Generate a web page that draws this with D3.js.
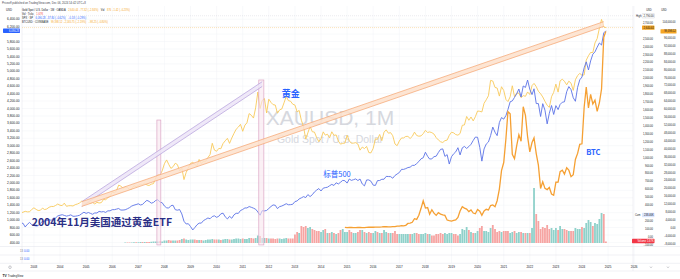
<!DOCTYPE html>
<html>
<head>
<meta charset="utf-8">
<script src="https://cdn.jsdelivr.net/npm/d3@7"></script>
<style>
body { margin: 0; background: #fff; }
svg { display: block; font-family: "Liberation Sans", Arial, sans-serif; }
</style>
</head>
<body>
<svg width="680" height="279"></svg>
<script>
// monthly closes, gold from 2002-06
var goldStart = "2002-06";
var gold = [
  318, 304, 312, 324, 317, 318, 347,
  368, 348, 334, 337, 364, 346, 354, 375, 385, 384, 398, 416,
  400, 396, 427, 387, 394, 395, 391, 408, 416, 429, 453, 438,
  422, 435, 428, 436, 417, 437, 429, 433, 473, 470, 495, 513,
  568, 556, 582, 654, 643, 613, 632, 624, 599, 604, 648, 632,
  650, 665, 662, 679, 656, 650, 666, 673, 743, 789, 783, 834,
  923, 972, 917, 865, 886, 930, 913, 833, 871, 724, 815, 870,
  928, 942, 917, 891, 978, 927, 955, 955, 1001, 1040, 1182, 1096,
  1081, 1118, 1113, 1179, 1213, 1244, 1181, 1248, 1307, 1359, 1386, 1421,
  1333, 1411, 1439, 1556, 1536, 1500, 1628, 1828, 1620, 1722, 1746, 1564,
  1738, 1697, 1669, 1664, 1561, 1604, 1614, 1692, 1773, 1720, 1712, 1675,
  1664, 1578, 1596, 1472, 1393, 1235, 1313, 1396, 1327, 1323, 1253, 1202,
  1240, 1326, 1284, 1296, 1250, 1327, 1282, 1287, 1209, 1171, 1182, 1184,
  1283, 1213, 1183, 1184, 1190, 1172, 1095, 1134, 1115, 1142, 1065, 1061,
  1118, 1238, 1233, 1293, 1215, 1322, 1351, 1309, 1316, 1277, 1173, 1151,
  1211, 1249, 1249, 1268, 1269, 1242, 1269, 1322, 1280, 1271, 1275, 1303,
  1345, 1318, 1325, 1316, 1298, 1253, 1224, 1201, 1192, 1215, 1222, 1282,
  1321, 1313, 1292, 1284, 1305, 1409, 1413, 1520, 1472, 1513, 1464, 1517,
  1589, 1585, 1577, 1686, 1730, 1781, 1975, 1967, 1886, 1879, 1777, 1895,
  1848, 1734, 1708, 1769, 1907, 1770, 1814, 1814, 1757, 1783, 1774, 1829,
  1797, 1909, 1937, 1897, 1838, 1807, 1766, 1711, 1661, 1634, 1769, 1824,
  1928, 1827, 1969, 1990, 1963, 1919, 1965, 1940, 1849, 1983, 2036, 2063,
  2040, 2044, 2230, 2286, 2327, 2326, 2447, 2503, 2634, 2744, 2650, 2640
];

var spxStart = "2002-06";
var spx = [
  990, 912, 916, 815, 886, 936, 880,
  856, 841, 848, 917, 964, 975, 990, 1008, 996, 1051, 1058, 1112,
  1131, 1145, 1126, 1107, 1121, 1141, 1102, 1104, 1115, 1130, 1174, 1212,
  1181, 1204, 1181, 1157, 1192, 1191, 1234, 1220, 1229, 1207, 1249, 1248,
  1280, 1281, 1295, 1311, 1270, 1270, 1277, 1304, 1336, 1378, 1401, 1418,
  1438, 1407, 1421, 1482, 1531, 1503, 1455, 1474, 1527, 1549, 1481, 1468,
  1379, 1331, 1323, 1386, 1400, 1280, 1267, 1283, 1166, 969, 896, 903,
  826, 735, 798, 873, 919, 919, 987, 1021, 1057, 1036, 1096, 1115,
  1074, 1104, 1169, 1187, 1089, 1031, 1102, 1049, 1141, 1183, 1181, 1258,
  1286, 1327, 1326, 1364, 1345, 1321, 1292, 1219, 1131, 1253, 1247, 1258,
  1312, 1366, 1408, 1398, 1310, 1362, 1379, 1407, 1441, 1412, 1416, 1426,
  1498, 1515, 1569, 1598, 1631, 1606, 1686, 1633, 1682, 1757, 1806, 1848,
  1783, 1859, 1872, 1884, 1924, 1960, 1931, 2003, 1972, 2018, 2068, 2059,
  1995, 2105, 2068, 2086, 2107, 2063, 2104, 1972, 1920, 2079, 2080, 2044,
  1940, 1932, 2060, 2065, 2097, 2099, 2174, 2171, 2168, 2126, 2199, 2239,
  2279, 2364, 2363, 2384, 2412, 2423, 2470, 2472, 2519, 2575, 2648, 2674,
  2824, 2714, 2641, 2648, 2705, 2718, 2816, 2902, 2914, 2712, 2760, 2507,
  2704, 2784, 2834, 2946, 2752, 2942, 2980, 2926, 2977, 3038, 3141, 3231,
  3226, 2954, 2585, 2912, 3044, 3100, 3271, 3500, 3363, 3270, 3622, 3756,
  3714, 3811, 3973, 4181, 4204, 4298, 4395, 4523, 4308, 4605, 4567, 4766,
  4516, 4374, 4530, 4132, 4132, 3785, 4130, 3955, 3586, 3872, 4080, 3840,
  4077, 3970, 4109, 4169, 4180, 4450, 4589, 4508, 4288, 4194, 4568, 4770,
  4846, 5096, 5254, 5036, 5278, 5460, 5522, 5648, 5762, 5705, 6032, 6090
];

var btcStart = "2014-12";
var btc = [
  320,
  218, 254, 245, 236, 230, 264, 284, 230, 236, 313, 377, 430,
  368, 437, 416, 448, 531, 673, 624, 575, 609, 700, 742, 963,
  970, 1190, 1080, 1348, 2300, 2480, 2875, 4700, 4340, 6470, 9950, 13800,
  10100, 10320, 6930, 9240, 7500, 6390, 7730, 7030, 6630, 6370, 4040, 3740,
  3460, 3820, 4100, 5320, 8570, 10820, 10080, 9590, 8290, 9150, 7550, 7190,
  9350, 8540, 6410, 8620, 9450, 9140, 11350, 11650, 10780, 13800, 19700, 28990,
  33100, 45240, 58800, 57720, 37300, 35040, 41460, 47100, 43820, 61300, 57000, 46200,
  38500, 43200, 45530, 37640, 31800, 19940, 23300, 20050, 19420, 20490, 17160, 16540,
  23130, 23140, 28480, 29250, 27220, 30470, 29230, 25940, 26960, 34650, 37720, 42280,
  42580, 61200, 71300, 60670, 67530, 62680, 64620, 58970, 63330, 70280, 96450, 99400
];

// gold volume (K), from 2006-07
var volStart = "2006-07";
var volume = [
  1, 1, 1, 1, 1.5, 1.5,
  1.5, 2, 2, 2, 2, 2, 2.5, 3, 3, 3, 3.5, 3,
  5, 5, 6, 5, 5, 5, 5, 6, 8, 9, 7, 6,
  7, 7, 7, 6, 6, 6, 5, 6, 7, 7, 8, 7,
  7, 7, 6, 7, 8, 8, 7, 7, 8, 9, 9, 8,
  9, 8, 8, 10, 10, 9, 10, 15, 14, 10, 10, 10,
  9, 9, 9, 8, 9, 9, 8, 9, 10, 9, 9, 9,
  17, 22, 20, 34, 32, 34, 30, 32, 28, 26, 24, 24,
  22, 26, 28, 20, 20, 22, 20, 18, 20, 26, 28, 22,
  22, 26, 22, 20, 20, 22, 26, 26, 22, 20, 22, 20,
  20, 24, 22, 20, 20, 26, 22, 20, 20, 20, 24, 18,
  18, 18, 18, 18, 18, 18, 18, 20, 20, 18, 18, 18,
  20, 18, 18, 15, 15, 18, 18, 20, 18, 20, 18, 20,
  20, 18, 18, 15, 18, 28, 26, 32, 26, 22, 20, 20,
  24, 30, 34, 24, 24, 22, 30, 36, 28, 22, 24, 22,
  24, 24, 24, 20, 22, 24, 20, 22, 22, 20, 20, 20,
  20, 30, 110, 58, 44, 28, 32, 30, 36, 28, 30, 26,
  30, 26, 34, 28, 28, 26, 24, 24, 24, 30, 28, 28,
  32, 30, 40, 46, 42, 34, 40, 38, 48, 60, 58, 3
];

var years = [2003, 2004, 2005, 2006, 2007, 2008, 2009, 2010, 2011, 2012, 2013, 2014,
             2015, 2016, 2017, 2018, 2019, 2020, 2021, 2022, 2023, 2024, 2025, 2026];
var spxTicks = d3.range(400, 6401, 200);
var goldTicks = d3.range(-100, 2701, 100);
var btcTicks = d3.range(-8000, 104001, 4000);

// drawings, in date / gold-price terms
var channels = [
  {from: "2004-11", v0: 416, to: "2011-10", v1: 1929, half: 30, stroke: "#b39ddb", fill: "#ece4f7"},
  {from: "2004-11", v0: 416, to: "2024-11", v1: 2686, half: 30, stroke: "#f5a46e", fill: "#fde0cb"}
];
var zones = [
  {from: "2007-09-18", to: "2007-11-12", top: 1475},
  {from: "2011-08-14", to: "2011-10-24", top: 1980}
];

var svg = d3.select("svg");
var plotL = 22, plotR = 633, plotT = 6, plotB = 246;
var parse = d3.timeParse("%Y-%m"), parseD = d3.timeParse("%Y-%m-%d");

function monthly(start, values) {
  var d0 = parse(start);
  return values.map(function(v, i) {
    return {date: d3.timeMonth.offset(d0, i), value: v};
  });
}
var goldData = monthly(goldStart, gold),
    spxData = monthly(spxStart, spx),
    btcData = monthly(btcStart, btc),
    volData = monthly(volStart, volume);

var x = d3.scaleTime()
    .domain([new Date(2004, 0, 1), new Date(2026, 0, 1)])
    .range([60, 634.2]);
var yGold = d3.scaleLinear().domain([0, 2700]).range([237, 22.9]);
var ySpx = d3.scaleLinear().domain([0, 6000]).range([257.3, 34.1]);
var yBtc = d3.scaleLinear().domain([0, 100000]).range([228, 30.2]);
var yVol = d3.scaleLinear().domain([0, 120]).range([243, 183]);

// current value tags
var spxLast = 6090.28, goldLast = 2640.44, goldHigh = 2790, btcLast = 99398.12;

svg.append("rect").attr("width", 680).attr("height", 279).attr("fill", "#fff");

svg.append("defs").append("clipPath").attr("id", "plot")
  .append("rect").attr("x", plotL).attr("y", plotT)
  .attr("width", plotR - plotL).attr("height", plotB - plotT);

// grid
var grid = svg.append("g").attr("stroke", "#f1f2f6").attr("stroke-width", 0.5);
grid.selectAll(".v").data(years).enter().append("line")
    .attr("x1", function(d) { return x(new Date(d, 0, 1)); })
    .attr("x2", function(d) { return x(new Date(d, 0, 1)); })
    .attr("y1", plotT).attr("y2", 263);
grid.selectAll(".h").data(spxTicks).enter().append("line")
    .attr("x1", plotL).attr("x2", plotR)
    .attr("y1", function(d) { return ySpx(d); })
    .attr("y2", function(d) { return ySpx(d); });

// panes
var sep = svg.append("g").attr("stroke", "#e0e3eb").attr("stroke-width", 0.5);
[246.5, 255, 263.3, 271].forEach(function(y) {
  sep.append("line").attr("x1", 0).attr("x2", 680).attr("y1", y).attr("y2", y);
});
sep.append("line").attr("x1", plotR).attr("x2", plotR).attr("y1", 6).attr("y2", 271);
sep.append("line").attr("x1", plotL).attr("x2", plotL).attr("y1", 6).attr("y2", 263.3);

// watermark
svg.append("text").attr("x", 330).attr("y", 125).attr("text-anchor", "middle")
  .attr("font-size", 21).attr("fill", "#d6d8de").text("XAUUSD, 1M");
svg.append("text").attr("x", 330).attr("y", 143).attr("text-anchor", "middle")
  .attr("font-size", 10.5).attr("fill", "#d6d8de").text("Gold Spot / U.S. Dollar");

var plot = svg.append("g").attr("clip-path", "url(#plot)");

// volume
var bw = 1.8;
plot.append("g").selectAll("rect").data(volData).enter().append("rect")
  .attr("x", function(d) { return x(d.date) - bw / 2; })
  .attr("width", bw)
  .attr("y", function(d) { return yVol(d.value); })
  .attr("height", function(d) { return yVol(0) - yVol(d.value); })
  .attr("fill", function(d) {
    var i = goldData.findIndex(function(g) { return +g.date === +d.date; });
    return gold[i] >= gold[i - 1] ? "#8fd1ca" : "#f6a4a2";
  });

// lines
function line(y) {
  return d3.line().x(function(d) { return x(d.date); }).y(function(d) { return y(d.value); });
}
plot.append("path").datum(goldData).attr("d", line(yGold))
  .attr("fill", "none").attr("stroke", "#f8c95a").attr("stroke-width", 0.9);
plot.append("path").datum(spxData).attr("d", line(ySpx))
  .attr("fill", "none").attr("stroke", "#5a72e6").attr("stroke-width", 0.9);
plot.append("path").datum(btcData).attr("d", line(yBtc))
  .attr("fill", "none").attr("stroke", "#f5a033").attr("stroke-width", 1.3);

// price lines
plot.append("line").attr("x1", plotL).attr("x2", plotR)
  .attr("y1", yGold(goldLast)).attr("y2", yGold(goldLast))
  .attr("stroke", "#f5a623").attr("stroke-opacity", 0.5).attr("stroke-width", 0.6)
  .attr("stroke-dasharray", "1,1");
plot.append("line").attr("x1", plotL).attr("x2", plotR)
  .attr("y1", yGold(goldHigh)).attr("y2", yGold(goldHigh))
  .attr("stroke", "#b2b5be").attr("stroke-opacity", 0.5).attr("stroke-width", 0.5)
  .attr("stroke-dasharray", "1,1");

// zones
plot.append("g").selectAll("rect").data(zones).enter().append("rect")
  .attr("x", function(d) { return x(parseD(d.from)); })
  .attr("width", function(d) { return x(parseD(d.to)) - x(parseD(d.from)); })
  .attr("y", function(d) { return yGold(d.top); })
  .attr("height", function(d) { return yGold(-100) - yGold(d.top); })
  .attr("fill", "#f8e6ef").attr("fill-opacity", 0.6)
  .attr("stroke", "#dca6c6").attr("stroke-width", 0.7);

// channels
channels.forEach(function(c) {
  var x0 = x(parse(c.from)), x1 = x(parse(c.to));
  var g = plot.append("g");
  g.append("path")
    .attr("d", "M" + x0 + "," + yGold(c.v0 + c.half) + "L" + x1 + "," + yGold(c.v1 + c.half) +
               "L" + x1 + "," + yGold(c.v1 - c.half) + "L" + x0 + "," + yGold(c.v0 - c.half) + "Z")
    .attr("fill", c.fill).attr("fill-opacity", 0.85);
  [c.half, -c.half].forEach(function(o) {
    g.append("line").attr("x1", x0).attr("x2", x1)
      .attr("y1", yGold(c.v0 + o)).attr("y2", yGold(c.v1 + o))
      .attr("stroke", c.stroke).attr("stroke-width", 0.7);
  });
});

// annotations
var cjk = '"Noto Sans CJK SC", sans-serif';
svg.append("text").attr("x", x(parse("2012-07"))).attr("y", yGold(1765))
  .attr("font-family", cjk).attr("font-size", 9).attr("font-weight", "bold")
  .attr("fill", "#2962ff").text("黄金");
svg.append("text").attr("x", x(parse("2014-02"))).attr("y", ySpx(2159))
  .attr("font-family", cjk).attr("font-size", 7.5)
  .attr("fill", "#2962ff").text("标普500");
svg.append("text").attr("x", x(parse("2024-03"))).attr("y", yBtc(36900))
  .attr("font-family", cjk).attr("font-size", 7.5).attr("font-weight", "bold")
  .attr("fill", "#2962ff").text("BTC");
svg.append("text").attr("x", x(parse("2002-12"))).attr("y", yGold(139))
  .attr("font-family", cjk).attr("font-size", 10.5).attr("font-weight", "bold")
  .attr("fill", "#2b2f86").text("2004年11月美国通过黄金ETF");

function clear(ticks, scale, tags) {
  return ticks.filter(function(t) {
    return tags.every(function(y) { return Math.abs(scale(t) - y) > 3.6; });
  });
}
var fmt = function(d) { return d3.format(",.2f")(d).replace("-", "−"); };

// left axis (SPX)
var ax = svg.append("g").attr("font-size", 3.2).attr("fill", "#131722");
ax.append("text").attr("x", 6).attr("y", 11).attr("font-size", 2.8).text("USD");
ax.selectAll(".l").data(clear(spxTicks, ySpx, [ySpx(spxLast)])).enter().append("text")
  .attr("x", 19.5).attr("y", function(d) { return ySpx(d) + 1.1; })
  .attr("text-anchor", "end").text(fmt);

// right axes
var r1 = svg.append("g").attr("font-size", 2.6).attr("fill", "#131722");
r1.append("text").attr("x", 649).attr("y", 11).attr("text-anchor", "middle").text("USD");
r1.selectAll(".t").data(clear(goldTicks, yGold, [yGold(goldHigh), yGold(goldLast), 215, 241])).enter().append("text")
  .attr("x", 653).attr("y", function(d) { return yGold(d) + 0.9; })
  .attr("text-anchor", "end").text(fmt);
var r2 = svg.append("g").attr("font-size", 2.6).attr("fill", "#131722");
r2.append("text").attr("x", 664).attr("y", 11).attr("text-anchor", "middle").text("USD");
r2.selectAll(".t").data(clear(btcTicks, yBtc, [yBtc(btcLast)])).enter().append("text")
  .attr("x", 675.5).attr("y", function(d) { return yBtc(d) + 0.9; })
  .attr("text-anchor", "end").text(fmt);

function tag(xr, y, w, label, bg, fg, stroke) {
  var g = svg.append("g");
  g.append("rect").attr("x", xr - w).attr("y", y - 2.2).attr("width", w).attr("height", 4.4)
    .attr("rx", 0.6).attr("fill", bg).attr("stroke", stroke || "none").attr("stroke-width", 0.3);
  g.append("text").attr("x", xr - 0.8).attr("y", y + 0.9).attr("text-anchor", "end")
    .attr("font-size", 2.6).attr("fill", fg).text(label);
}
tag(20, ySpx(spxLast), 17, fmt(spxLast), "#2962ff", "#fff");
tag(654.5, yGold(goldHigh), 12.5, fmt(goldHigh), "#fff", "#131722", "#b2b5be");
svg.append("text").attr("x", 636).attr("y", yGold(goldHigh) + 0.9).attr("font-size", 2.6)
  .attr("fill", "#131722").text("High");
tag(654.5, yGold(goldLast), 12.5, fmt(goldLast), "#f5a623", "#131722");
tag(676.5, yBtc(btcLast), 16, fmt(btcLast), "#f5a623", "#131722");
tag(654.5, 215, 12.5, "238.46K", "#dbe6ff", "#131722");
svg.append("text").attr("x", 635).attr("y", 215.9).attr("font-size", 2.6)
  .attr("fill", "#131722").text("Cum");
tag(654.5, 241, 22.5, "Volume   1.67K", "#f23645", "#fff");

// lower panes
[252, 260].forEach(function(y) {
  var t = svg.append("text").attr("x", 20).attr("y", y).attr("font-size", 2.8).attr("fill", "#787b86");
  t.append("tspan").text("13 ");
  t.append("tspan").attr("fill", "#2962ff").text(" 0.00");
});

// x axis
svg.append("g").attr("font-size", 3).attr("fill", "#131722")
  .selectAll("text").data(years).enter().append("text")
  .attr("x", function(d) { return x(new Date(d, 0, 1)); })
  .attr("y", 268.3).attr("text-anchor", "middle").text(function(d) { return d; });
svg.append("circle").attr("cx", 10).attr("cy", 267.2).attr("r", 1.3)
  .attr("fill", "none").attr("stroke", "#787b86").attr("stroke-width", 0.4);
[651, 668].forEach(function(cx) {
  svg.append("path").attr("d", "M" + (cx - 1) + ",266.6L" + cx + ",267.8L" + (cx + 1) + ",266.6")
    .attr("fill", "none").attr("stroke", "#787b86").attr("stroke-width", 0.4);
});

// header texts
svg.append("text").attr("x", 2).attr("y", 4).attr("font-size", 2.8).attr("fill", "#434651")
  .text("Priceoff published on TradingView.com, Dec 06, 2024 14:42 UTC+8");

var legend = [
  [["Gold Spot / U.S. Dollar · 1M · OANDA", "#131722"], ["2,640.44  −77.32 (−2.84%)", "#f5a623"],
   ["Vol", "#131722"], ["876  −1.42 (−0.23%)", "#f5a623"]],
  [["Vol · Tickc", "#131722"], ["1.67K", "#f23645"]],
  [["SPX · SP", "#131722"], ["6,090.28  −37.80 (−0.62%)", "#2962ff"], ["−0.18 (−0.29%)", "#2962ff"]],
  [["BTCUSD · COINBASE", "#131722"], ["99,398.12  −2,165.75 (−2.19%)", "#f5a623"], ["−98.25 (−0.80%)", "#f5a623"]]
];
var lg = svg.append("g").attr("font-size", 2.6);
legend.forEach(function(row, i) {
  var t = lg.append("text").attr("x", 22).attr("y", 10.8 + i * 3.9);
  row.forEach(function(s, j) {
    t.append("tspan").attr("fill", s[1]).attr("dx", j ? 2.5 : 0).text(s[0]);
  });
});

// logo
var lt = svg.append("text").attr("x", 2.5).attr("y", 276.5).attr("fill", "#131722");
lt.append("tspan").attr("font-size", 3.4).attr("font-weight", "bold").text("TV");
lt.append("tspan").attr("font-size", 2.8).attr("dx", 1).text("TradingView");
</script>
</body>
</html>
